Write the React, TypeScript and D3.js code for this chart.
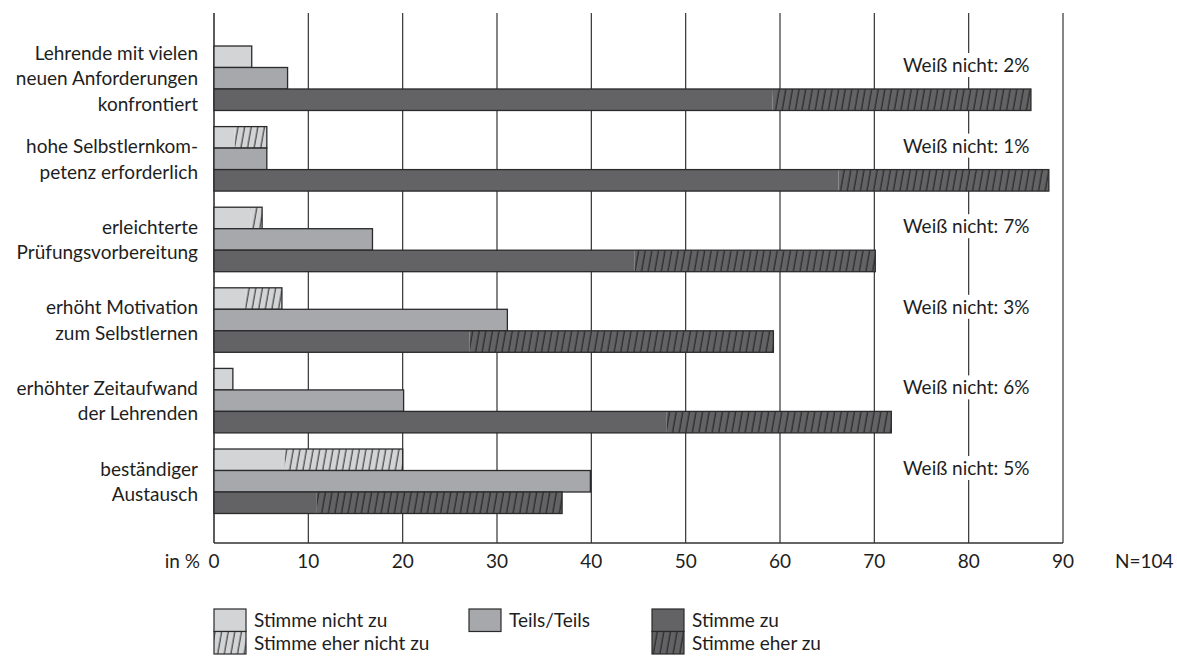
import React from "react";
import * as d3 from "d3";

const categories = [
  ["Lehrende mit vielen", "neuen Anforderungen", "konfrontiert"],
  ["hohe Selbstlernkom-", "petenz erforderlich"],
  ["erleichterte", "Prüfungsvorbereitung"],
  ["erhöht Motivation", "zum Selbstlernen"],
  ["erhöhter Zeitaufwand", "der Lehrenden"],
  ["beständiger", "Austausch"],
];
const stimmeNichtZu = [4.0, 2.2, 3.9, 3.3, 2.0, 7.5];
const stimmeEherNichtZu = [0, 3.4, 1.2, 3.9, 0, 12.5];
const teilsTeils = [7.8, 5.6, 16.8, 31.1, 20.1, 39.9];
const stimmeZu = [59.2, 66.2, 44.6, 27.1, 48.0, 10.9];
const stimmeEherZu = [27.4, 22.3, 25.5, 32.2, 23.8, 26.0];
const weissNicht = [2, 1, 7, 3, 6, 5];
const ticks = [0, 10, 20, 30, 40, 50, 60, 70, 80, 90];

const W = 1177;
const H = 658;
const FONT = "Lato, 'Open Sans', sans-serif";
const LIGHT = "#d3d4d6";
const MID = "#a7a8ac";
const DARK = "#636365";
const STROKE = "#2a2a2a";
const TEXT = "#1e1e1e";

export default function App() {
  const x = d3.scaleLinear().domain([0, 90]).range([214, 1063]);
  const keys = categories.map((_, i) => String(i));
  const y = d3.scaleBand().domain(keys).range([46, 513.5]).paddingInner(0.2).paddingOuter(0);
  const bh = y.bandwidth() / 3;
  const top = 13;
  const axisY = 543;

  return (
    <svg width={W} height={H} style={{ position: "absolute", left: 0, top: 0, display: "block", background: "#fff" }} fontFamily={FONT}>
      <defs>
        <pattern id="hatchLight" patternUnits="userSpaceOnUse" width={6.6} height={10} patternTransform="skewX(-10)">
          <rect width={6.6} height={10} fill={LIGHT} />
          <line x1={3} y1={-1} x2={3} y2={11} stroke="#222" strokeWidth={1} />
        </pattern>
        <pattern id="hatchDark" patternUnits="userSpaceOnUse" width={6.6} height={10} patternTransform="skewX(-10)">
          <rect width={6.6} height={10} fill={DARK} />
          <line x1={3} y1={-1} x2={3} y2={11} stroke="#1a1a1a" strokeWidth={1} />
        </pattern>
      </defs>

      {ticks.map((t) => (
        <line key={"g" + t} x1={x(t)} x2={x(t)} y1={top} y2={axisY} stroke="#333" strokeWidth={t === 0 ? 1.6 : 1.2} />
      ))}
      <line x1={x(0)} x2={x(90)} y1={axisY} y2={axisY} stroke="#333" strokeWidth={1.6} />

      {keys.map((k, i) => {
        const y0 = y(k)!;
        const a = stimmeNichtZu[i];
        const b = stimmeEherNichtZu[i];
        const c = teilsTeils[i];
        const d = stimmeZu[i];
        const e = stimmeEherZu[i];
        return (
          <g key={k}>
            <rect x={x(0)} y={y0} width={x(a) - x(0)} height={bh} fill={LIGHT} />
            {b > 0 && <rect x={x(a)} y={y0} width={x(a + b) - x(a)} height={bh} fill="url(#hatchLight)" />}
            <rect x={x(0)} y={y0} width={x(a + b) - x(0)} height={bh} fill="none" stroke={STROKE} strokeWidth={1.3} />

            <rect x={x(0)} y={y0 + bh} width={x(c) - x(0)} height={bh} fill={MID} stroke={STROKE} strokeWidth={1.3} />

            <rect x={x(0)} y={y0 + 2 * bh} width={x(d) - x(0)} height={bh} fill={DARK} />
            <rect x={x(d)} y={y0 + 2 * bh} width={x(d + e) - x(d)} height={bh} fill="url(#hatchDark)" />
            <rect x={x(0)} y={y0 + 2 * bh} width={x(d + e) - x(0)} height={bh} fill="none" stroke={STROKE} strokeWidth={1.3} />

            {categories[i].map((line, j) => {
              const n = categories[i].length;
              const cy = y0 + y.bandwidth() / 2;
              const by = cy + 7 + (j - (n - 1) / 2) * 25.5;
              return (
                <text key={j} x={198} y={by} textAnchor="end" fontSize={19} fill={TEXT}>
                  {line}
                </text>
              );
            })}

            <rect x={898} y={y0 + 7} width={150} height={24} fill="#fff" />
            <text x={903} y={y0 + 26} fontSize={19} fill={TEXT}>
              {`Weiß nicht: ${weissNicht[i]}%`}
            </text>
          </g>
        );
      })}

      {ticks.map((t) => (
        <text key={"t" + t} x={x(t)} y={568} textAnchor="middle" fontSize={19} fill={TEXT}>
          {t}
        </text>
      ))}
      <text x={200} y={568} textAnchor="end" fontSize={19} fill={TEXT}>in %</text>
      <text x={1115} y={568} fontSize={19} fill={TEXT}>N=104</text>

      <g fontSize={19} fill={TEXT}>
        <rect x={214} y={609} width={32} height={22.5} fill={LIGHT} stroke={STROKE} strokeWidth={1.2} />
        <rect x={214} y={631.5} width={32} height={22.5} fill="url(#hatchLight)" stroke={STROKE} strokeWidth={1.2} />
        <text x={254} y={627}>Stimme nicht zu</text>
        <text x={254} y={650}>Stimme eher nicht zu</text>

        <rect x={469} y={609} width={32} height={22.5} fill={MID} stroke={STROKE} strokeWidth={1.2} />
        <text x={509} y={627}>Teils/Teils</text>

        <rect x={652} y={609} width={32} height={22.5} fill={DARK} stroke={STROKE} strokeWidth={1.2} />
        <rect x={652} y={631.5} width={32} height={22.5} fill="url(#hatchDark)" stroke={STROKE} strokeWidth={1.2} />
        <text x={692} y={627}>Stimme zu</text>
        <text x={692} y={650}>Stimme eher zu</text>
      </g>
    </svg>
  );
}
